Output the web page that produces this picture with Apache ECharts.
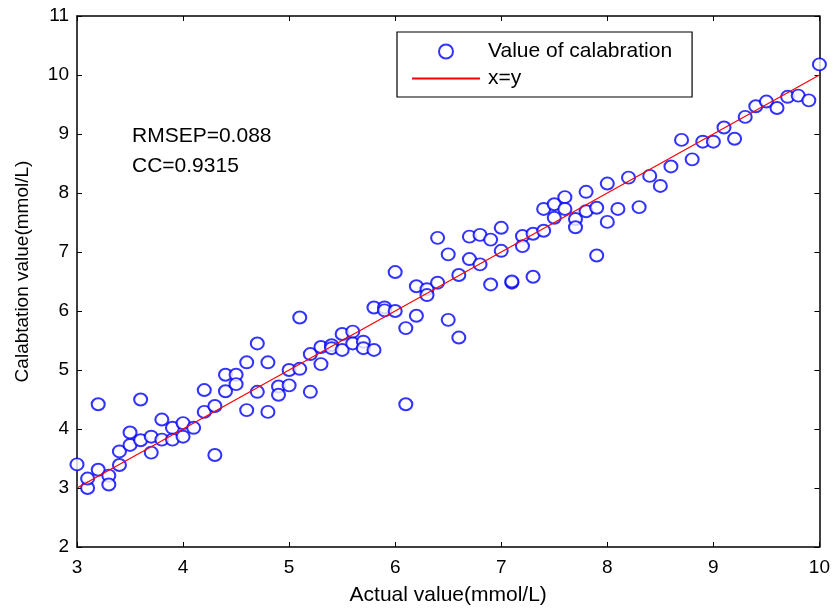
<!DOCTYPE html>
<html>
<head>
<meta charset="utf-8">
<script src="https://cdn.jsdelivr.net/npm/echarts@6/dist/echarts.min.js"></script>
<style>html,body{margin:0;padding:0;background:#fff}#c{width:833px;height:611px}</style>
</head>
<body>
<div id="c"></div>
<script>
var actualValues = [3.0,3.1,3.1,3.2,3.2,3.3,3.3,3.4,3.4,3.5,3.5,3.6,3.6,3.7,3.7,3.8,3.8,3.9,3.9,4.0,4.0,4.1,4.2,4.2,4.3,4.3,4.4,4.4,4.5,4.5,4.6,4.6,4.7,4.7,4.8,4.8,4.9,4.9,5.0,5.0,5.1,5.1,5.2,5.2,5.3,5.3,5.4,5.4,5.5,5.5,5.6,5.6,5.7,5.7,5.8,5.8,5.9,5.9,6.0,6.0,6.1,6.1,6.2,6.2,6.3,6.3,6.4,6.4,6.5,6.5,6.6,6.6,6.7,6.7,6.8,6.8,6.9,6.9,7.0,7.0,7.1,7.1,7.2,7.2,7.3,7.3,7.4,7.4,7.5,7.5,7.6,7.6,7.7,7.7,7.8,7.8,7.9,7.9,8.0,8.0,8.1,8.2,8.3,8.4,8.5,8.6,8.7,8.8,8.9,9.0,9.1,9.2,9.3,9.4,9.5,9.6,9.7,9.8,9.9,10.0];
var calibValues = [3.40,3.00,3.16,3.31,4.42,3.21,3.06,3.39,3.62,3.73,3.94,3.81,4.50,3.87,3.60,4.16,3.82,3.82,4.02,4.10,3.87,4.02,4.29,4.66,4.39,3.56,4.64,4.92,4.92,4.76,4.32,5.13,4.63,5.45,5.13,4.29,4.72,4.58,5.00,4.74,5.89,5.02,5.27,4.63,5.39,5.10,5.42,5.37,5.61,5.34,5.65,5.45,5.48,5.37,5.34,6.06,6.06,6.01,6.00,6.66,5.71,4.42,5.92,6.42,6.37,6.27,6.48,7.24,6.96,5.85,5.55,6.61,6.88,7.26,7.29,6.79,7.21,6.45,7.41,7.02,6.48,6.50,7.27,7.10,7.31,6.58,7.36,7.73,7.81,7.58,7.93,7.73,7.56,7.42,8.02,7.69,7.75,6.94,8.16,7.51,7.73,8.26,7.76,8.29,8.12,8.45,8.90,8.57,8.87,8.87,9.11,8.92,9.29,9.47,9.55,9.44,9.63,9.65,9.57,10.18];
var lineX = [3, 10];
var lineY = [3, 10];
var xTicks = {min: 3, max: 10, interval: 1};
var yTicks = {min: 2, max: 11, interval: 1};
var seriesNames = ['Value of calabration', 'x=y'];
var annotations = ['RMSEP=0.088', 'CC=0.9315'];
var xTitle = 'Actual value(mmol/L)';
var yTitle = 'Calabtation value(mmol/L)';

var scatterData = actualValues.map(function (v, i) { return [v, calibValues[i]]; });
var lineData = lineX.map(function (v, i) { return [v, lineY[i]]; });
var FONT = 'Liberation Sans';

var chart = echarts.init(document.getElementById('c'), null, {renderer: 'canvas'});
var axisCommon = {
  type: 'value',
  axisLine: {show: true, onZero: false, lineStyle: {color: '#000', width: 1.5}},
  axisTick: {show: true, inside: true, length: 5, lineStyle: {color: '#000', width: 1}},
  splitLine: {show: false}
};
chart.setOption({
  animation: false,
  backgroundColor: '#fff',
  grid: {left: 77, right: 12, top: 16, bottom: 61, containLabel: false},
  xAxis: [
    Object.assign({}, axisCommon, {
      min: xTicks.min, max: xTicks.max, interval: xTicks.interval, position: 'bottom',
      name: xTitle, nameLocation: 'middle', nameGap: 38,
      nameTextStyle: {fontFamily: FONT, fontSize: 21, color: '#000'},
      axisLabel: {fontFamily: FONT, fontSize: 19, color: '#000', margin: 11}
    }),
    Object.assign({}, axisCommon, {
      min: xTicks.min, max: xTicks.max, interval: xTicks.interval, position: 'top',
      axisLabel: {show: false}
    })
  ],
  yAxis: [
    Object.assign({}, axisCommon, {
      min: yTicks.min, max: yTicks.max, interval: yTicks.interval, position: 'left',
      name: yTitle, nameLocation: 'middle', nameGap: 45, nameRotate: 90,
      nameTextStyle: {fontFamily: FONT, fontSize: 19, color: '#000', padding: [0, 0, 0, 20]},
      axisLabel: {fontFamily: FONT, fontSize: 19, color: '#000', margin: 8}
    }),
    Object.assign({}, axisCommon, {
      min: yTicks.min, max: yTicks.max, interval: yTicks.interval, position: 'right',
      axisLabel: {show: false}
    })
  ],
  legend: {
    show: true,
    orient: 'vertical',
    left: 397, top: 32,
    padding: [9, 20, 8, 14],
    backgroundColor: '#fff',
    borderColor: '#000', borderWidth: 1.2, borderRadius: 0,
    itemWidth: 68, itemHeight: 14, itemGap: 6,
    textStyle: {fontFamily: FONT, fontSize: 21, color: '#000', padding: [0, 0, 0, 3]},
    data: [
      {name: seriesNames[0], icon: 'emptyCircle'},
      {name: seriesNames[1], itemStyle: {opacity: 0}}
    ]
  },
  series: [
    {
      name: seriesNames[0], type: 'scatter', data: scatterData,
      symbol: 'emptyCircle', symbolSize: [13, 12], z: 3,
      itemStyle: {color: '#0000ff', borderColor: '#0000ff', borderWidth: 1.6}
    },
    {
      name: seriesNames[1], type: 'line', data: lineData, showSymbol: false, symbol: 'none',
      lineStyle: {color: '#ff0000', width: 1.2}, itemStyle: {color: '#ff0000'}, z: 4
    }
  ],
  graphic: [
    {type: 'text', left: 132, top: 126, style: {text: annotations[0], font: '21px "Liberation Sans"', fill: '#000'}},
    {type: 'text', left: 132, top: 156, style: {text: annotations[1], font: '21px "Liberation Sans"', fill: '#000'}}
  ]
});
</script>
</body>
</html>
